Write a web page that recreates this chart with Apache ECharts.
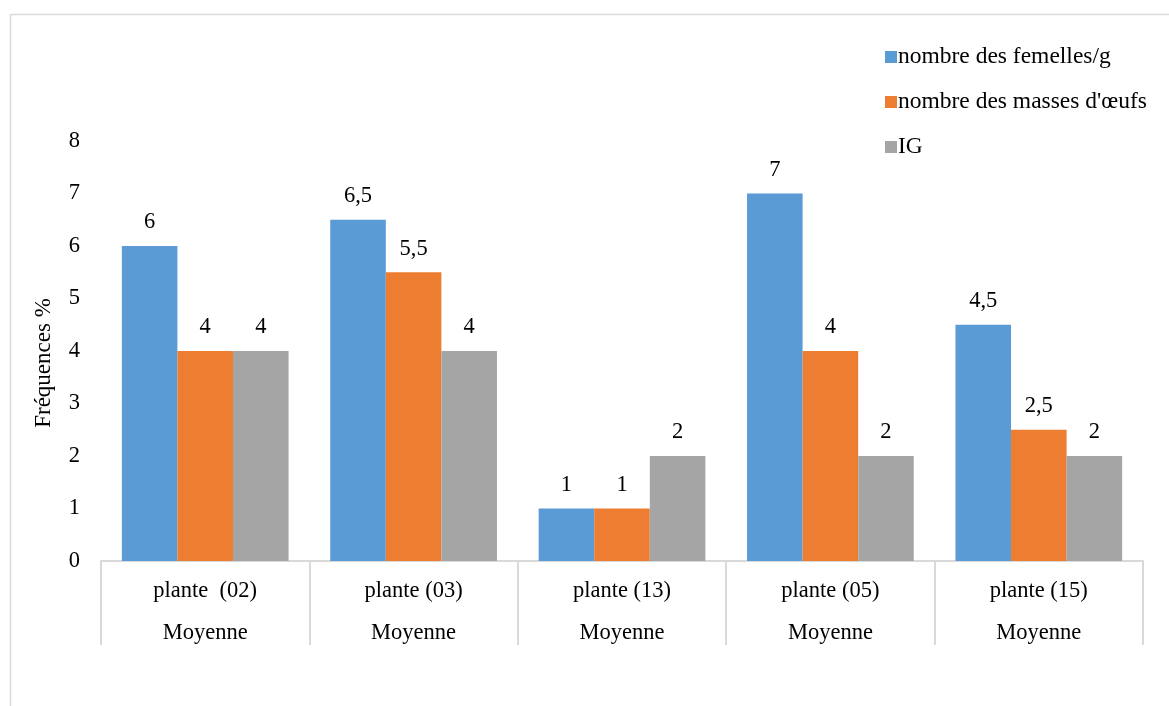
<!DOCTYPE html>
<html>
<head>
<meta charset="utf-8">
<script src="https://cdn.jsdelivr.net/npm/echarts@6/dist/echarts.min.js"></script>
<style>
html,body{margin:0;padding:0;background:#fff;}
#chart{width:1169px;height:706px;}
</style>
</head>
<body>
<div id="chart"></div>
<script>
const categories = ['plante  (02)', 'plante (03)', 'plante (13)', 'plante (05)', 'plante (15)'];
const groupLabel = 'Moyenne';
const seriesNames = ['nombre des femelles/g', "nombre des masses d'œufs", 'IG'];
const femelles = [6, 6.5, 1, 7, 4.5];
const masses = [4, 5.5, 1, 4, 2.5];
const ig = [4, 4, 2, 2, 2];
const colors = ['#5B9BD5', '#ED7D31', '#A5A5A5'];
const yTicks = [0, 8, 1];
const FONT = '"Liberation Serif", "Times New Roman", serif';

const chart = echarts.init(document.getElementById('chart'), null, {renderer: 'canvas'});
const dataSets = [femelles, masses, ig];
const fmt = v => String(v).replace('.', ',');

chart.setOption({
  animation: false,
  textStyle: {fontFamily: FONT, color: '#000'},
  graphic: [{
    type: 'rect', left: 8, top: 12,
    shape: {width: 1300, height: 900},
    style: {fill: 'none', stroke: '#d9d9d9', lineWidth: 1.5},
    silent: true
  }],
  legend: {
    orient: 'vertical',
    left: 880, top: 40,
    itemWidth: 12, itemHeight: 12, itemGap: 21,
    icon: 'rect',
    textStyle: {fontFamily: FONT, fontSize: 23.5, color: '#000', padding: [0,0,0,-4]},
    data: seriesNames
  },
  grid: {left: 101, right: 26, top: 141, bottom: 145, containLabel: false},
  xAxis: {
    type: 'category',
    data: categories,
    axisLine: {lineStyle: {color: '#d9d9d9', width: 2}},
    axisTick: {show: true, length: 84, lineStyle: {color: '#d9d9d9', width: 2}},
    axisLabel: {
      margin: 9,
      fontFamily: FONT, fontSize: 22.5, color: '#000', lineHeight: 42,
      formatter: v => v + '\n' + groupLabel
    }
  },
  yAxis: {
    type: 'value',
    min: yTicks[0], max: yTicks[1], interval: yTicks[2],
    name: 'Fréquences %',
    nameLocation: 'middle', nameGap: 46, nameRotate: 90,
    nameTextStyle: {fontFamily: FONT, fontSize: 23, color: '#000', padding: [0, 24, 0, 0]},
    axisLine: {show: false},
    axisTick: {show: false},
    splitLine: {show: false},
    axisLabel: {margin: 21, fontFamily: FONT, fontSize: 22.5, color: '#000'}
  },
  series: seriesNames.map((n, i) => ({
    name: n,
    type: 'bar',
    data: dataSets[i],
    barGap: '0%',
    barCategoryGap: '20%',
    itemStyle: {color: colors[i]},
    label: {
      show: true, position: 'top', distance: 12,
      fontFamily: FONT, fontSize: 22.5, color: '#000',
      formatter: p => fmt(p.value)
    }
  }))
});
</script>
</body>
</html>
